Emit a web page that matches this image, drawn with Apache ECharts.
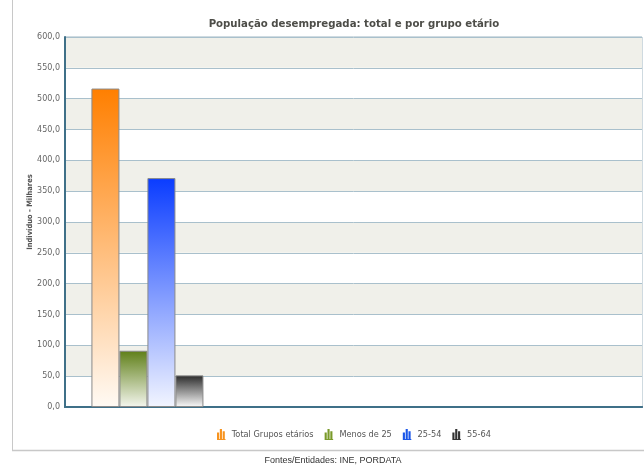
<!DOCTYPE html>
<html>
<head>
<meta charset="utf-8">
<script src="https://cdn.jsdelivr.net/npm/echarts@6/dist/echarts.min.js"></script>
<style>html,body{margin:0;padding:0;background:#fff;}#c{width:644px;height:466px;}</style>
</head>
<body>
<div id="c"></div>
<script>
const seriesNames = ['Total Grupos etários', 'Menos de 25', '25-54', '55-64'];
const seriesValues = [516.4, 91.2, 371.2, 51.3];
const topColors = ['#ff7f00', '#5f7f18', '#0a3cff', '#2a2a2a'];
const bottomColors = ['#fffaf4', '#f4f6ee', '#f2f5ff', '#fafafa'];
const legendColors = ['#f7931e', '#7a9a2a', '#1a56e8', '#333333'];
const yTicks = [0, 50, 100, 150, 200, 250, 300, 350, 400, 450, 500, 550, 600];
const titleText = 'População desempregada: total e por grupo etário';
const yAxisName = 'Indivíduo - Milhares';
const sourceText = 'Fontes/Entidades: INE, PORDATA';

const barIcon = 'path://M0,5h3v9h-3z M4,0h3v14h-3z M8,3h3v11h-3z M0,14h12v1.5h-12z';

const chart = echarts.init(document.getElementById('c'), null, {renderer: 'canvas'});
const option = {
  animation: false,
  backgroundColor: '#fff',
  title: {
    text: titleText,
    left: 349, top: 14, textAlign: 'center',
    textStyle: {fontFamily: 'DejaVu Sans Condensed, DejaVu Sans', fontWeight: 'bold', fontSize: 11.3, color: '#4d4d48'}
  },
  legend: {
    data: seriesNames.map((n, i) => ({name: n, icon: barIcon, itemStyle: {color: legendColors[i], borderWidth: 0}})),
    top: 424, left: 212, itemWidth: 11, itemHeight: 11, itemGap: 11,
    textStyle: {fontFamily: 'DejaVu Sans', fontSize: 8.2, color: '#555'}
  },
  graphic: [
    {type: 'line', shape: {x1: 12.5, y1: 0, x2: 12.5, y2: 450}, style: {stroke: '#c8c8c8', lineWidth: 1}, silent: true},
    {type: 'line', shape: {x1: 12, y1: 450.5, x2: 644, y2: 450.5}, style: {stroke: '#c8c8c8', lineWidth: 1.5}, silent: true},
    {type: 'text', x: 333, y: 461, style: {text: sourceText, fontFamily: 'Liberation Sans, Arial', fontSize: 9, fill: '#333', textAlign: 'center', textVerticalAlign: 'middle'}, silent: true}
  ],
  grid: {left: 65, top: 37, right: 2, bottom: 59, show: true, borderColor: '#9fb6c2', borderWidth: 1, backgroundColor: 'transparent'},
  xAxis: [
    {type: 'value', min: 0, max: 7, show: true, axisLine: {show: true, onZero: false, lineStyle: {color: '#3f7088', width: 2}},
     axisTick: {show: false}, axisLabel: {show: false}, splitLine: {show: false}},
    {type: 'value', position: 'top', min: 0, max: 7, axisLine: {show: true, lineStyle: {color: '#3f7088', width: 2}},
     axisTick: {show: false}, axisLabel: {show: false}, splitLine: {show: false}}
  ],
  yAxis: {
    type: 'value', min: yTicks[0], max: yTicks[yTicks.length - 1], interval: yTicks[1] - yTicks[0],
    name: yAxisName, nameLocation: 'middle', nameGap: 31, nameRotate: 90, nameMoveOverlap: false,
    nameTextStyle: {fontFamily: 'DejaVu Sans Condensed, DejaVu Sans', fontWeight: 'bold', fontSize: 7.5, color: '#555', padding: [0, 0, 0, 20]},
    axisLine: {show: true, lineStyle: {color: '#3f7088', width: 2}},
    axisTick: {show: false},
    axisLabel: {fontFamily: 'DejaVu Sans', fontSize: 8, color: '#666', margin: 5,
      formatter: v => v.toFixed(1).replace('.', ',')},
    splitLine: {show: true, lineStyle: {color: '#a9c0cc', width: 1}},
    splitArea: {show: true, areaStyle: {color: ['#ffffff', '#f0f0ea']}}
  },
  series: seriesNames.map((n, i) => ({
    name: n, type: 'bar', barWidth: 28, barGap: '0%',
    data: [[1, seriesValues[i]]],
    itemStyle: {
      color: new echarts.graphic.LinearGradient(0, 0, 0, 1, [
        {offset: 0, color: topColors[i]}, {offset: 1, color: bottomColors[i]}
      ]),
      borderColor: '#8a8a8a', borderWidth: 1
    }
  }))
};
chart.setOption(option);
</script>
</body>
</html>
